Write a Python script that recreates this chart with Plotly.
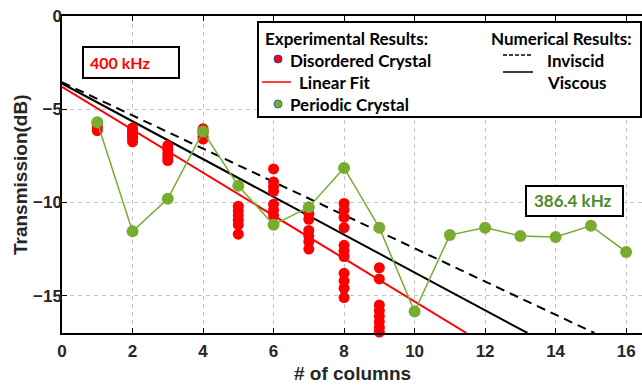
import plotly.graph_objects as go

# ---------------- data ----------------
disordered_cols = [1, 2, 3, 4, 5, 6, 7, 8, 9]
disordered_vals = [
    [-5.75, -5.9, -6.0, -6.15],
    [-6.0, -6.15, -6.3, -6.45, -6.6, -6.75],
    [-6.95, -7.15, -7.35, -7.55, -7.75],
    [-6.05, -6.25, -6.45, -6.6],
    [-10.2, -10.45, -10.7, -10.95, -11.2, -11.7],
    [-8.2, -8.9, -9.15, -9.4, -10.1, -10.4, -10.7],
    [-10.6, -10.9, -11.5, -11.8, -12.1, -12.5],
    [-10.05, -10.4, -10.8, -11.35, -12.3, -12.6, -12.9, -13.8, -14.2, -14.6, -15.1],
    [-13.5, -14.1, -15.5, -15.8, -16.1, -16.4, -16.7, -16.95],
]
periodic_x = [1, 2, 3, 4, 5, 6, 7, 8, 9, 10, 11, 12, 13, 14, 15, 16]
periodic_y = [-5.7, -11.55, -9.8, -6.2, -9.1, -11.2, -10.25, -8.15, -11.35,
              -15.85, -11.75, -11.35, -11.8, -11.85, -11.25, -12.65]
fit_x = [0, 11.47]
fit_y = [-3.8, -17.0]
viscous_x = [0, 13.2]
viscous_y = [-3.62, -17.0]
inviscid_x = [0, 15.1]
inviscid_y = [-3.55, -17.0]

x_ticks = [0, 2, 4, 6, 8, 10, 12, 14, 16]
y_ticks = [0, -5, -10, -15]

RED = "#ff0000"
GREEN = "#77ac30"
TXT = "#262626"

dx, dy = [], []
for c, vals in zip(disordered_cols, disordered_vals):
    for v in vals:
        dx.append(c)
        dy.append(v)

fig = go.Figure()
fig.add_trace(go.Scatter(x=inviscid_x, y=inviscid_y, mode="lines",
                         line=dict(color="black", width=2, dash="9px,6px")))
fig.add_trace(go.Scatter(x=viscous_x, y=viscous_y, mode="lines",
                         line=dict(color="black", width=2)))
fig.add_trace(go.Scatter(x=dx, y=dy, mode="markers", cliponaxis=False,
                         marker=dict(color=RED, size=11, line=dict(width=0))))
fig.add_trace(go.Scatter(x=fit_x, y=fit_y, mode="lines",
                         line=dict(color=RED, width=2)))
fig.add_trace(go.Scatter(x=periodic_x, y=periodic_y, mode="lines+markers", cliponaxis=False,
                         line=dict(color=GREEN, width=1.5),
                         marker=dict(color=GREEN, size=12, line=dict(width=0))))

# plot area in pixels
L, R, T, B = 62, 642, 16, 333


def px(x):
    return (x - L) / (R - L)


def py(y):
    return (B - y) / (B - T)


shapes = []
ann = []
LEG_FONT = dict(family="Lato", size=17, color="black")

# legend box
shapes.append(dict(type="rect", xref="paper", yref="paper", x0=px(258), x1=px(641),
                   y0=py(117), y1=py(22), line=dict(color="black", width=2),
                   fillcolor="white", layer="above"))


def text(x, y, s, font, anchor="left", angle=0):
    ann.append(dict(xref="paper", yref="paper", x=px(x), y=py(y), text=s,
                    showarrow=False, xanchor=anchor, yanchor="middle", font=font,
                    textangle=angle))


text(263, 38, "<b>Experimental Results:</b>", LEG_FONT)
text(288, 60, "<b>Disordered Crystal</b>", LEG_FONT)
text(297, 82, "<b>Linear Fit</b>", LEG_FONT)
text(288, 104, "<b>Periodic Crystal</b>", LEG_FONT)
text(489, 38, "<b>Numerical Results:</b>", LEG_FONT)
text(545, 60, "<b>Inviscid</b>", LEG_FONT)
text(545, 82, "<b>Viscous</b>", LEG_FONT)


def circ(cx, cy, r, fill, edge):
    shapes.append(dict(type="circle", xref="paper", yref="paper",
                       x0=px(cx - r), x1=px(cx + r), y0=py(cy + r), y1=py(cy - r),
                       fillcolor=fill, line=dict(color=edge, width=1), layer="above"))


circ(278, 59, 4, RED, "#2040c0")
circ(278, 104, 4, GREEN, "#4060a0")
shapes.append(dict(type="line", xref="paper", yref="paper", x0=px(262), x1=px(291),
                   y0=py(82), y1=py(82), line=dict(color=RED, width=1.5), layer="above"))
shapes.append(dict(type="line", xref="paper", yref="paper", x0=px(503), x1=px(533),
                   y0=py(55), y1=py(55), line=dict(color="black", width=1.5, dash="4px,2px"),
                   layer="above"))
shapes.append(dict(type="line", xref="paper", yref="paper", x0=px(503), x1=px(533),
                   y0=py(72), y1=py(72), line=dict(color="black", width=1.5), layer="above"))

# frequency boxes
shapes.append(dict(type="rect", xref="paper", yref="paper", x0=px(83), x1=px(179),
                   y0=py(78), y1=py(47), line=dict(color="black", width=2),
                   fillcolor="white", layer="above"))
text(88, 63, "<b>400 kHz</b>", dict(family="Lato", size=16, color=RED))
shapes.append(dict(type="rect", xref="paper", yref="paper", x0=px(526), x1=px(623),
                   y0=py(216), y1=py(186), line=dict(color="black", width=2),
                   fillcolor="white", layer="above"))
text(532, 201, "<b>386.4 kHz</b>", dict(family="Lato", size=17, color="#4f8a2a"))

# axis titles
TITLEF = dict(family="Liberation Sans", size=19, color=TXT)
ann.append(dict(xref="paper", yref="paper", x=px(20), y=py(175), text="<b>Transmission(dB)</b>",
                showarrow=False, xanchor="center", yanchor="middle", textangle=-90, font=TITLEF))
ann.append(dict(xref="paper", yref="paper", x=px(352), y=py(373), text="<b># of columns</b>",
                showarrow=False, xanchor="center", yanchor="middle", font=TITLEF))

TICKF = dict(family="Liberation Sans", size=17, color=TXT)


def lab(v):
    return "<b>" + str(v).replace("-", "\u2212") + "</b>"


fig.update_layout(
    width=642, height=385,
    margin=dict(l=L, r=0, t=T, b=385 - B, autoexpand=False),
    paper_bgcolor="white", plot_bgcolor="white",
    showlegend=False,
    shapes=shapes, annotations=ann,
    xaxis=dict(range=[0, 16.45], tickvals=x_ticks, ticktext=[lab(v) for v in x_ticks],
               tickfont=TICKF, showline=True, linecolor="black", linewidth=1.5,
               mirror="ticks", ticks="inside", ticklen=5, tickcolor="black",
               ticklabelstandoff=2,
               showgrid=True, gridcolor="#c4c4c4", griddash="4px,4px", gridwidth=1,
               zeroline=False, automargin=False),
    yaxis=dict(range=[-17, 0], tickvals=y_ticks, ticktext=[lab(v) for v in y_ticks],
               tickfont=TICKF, showline=True, linecolor="black", linewidth=1.5,
               ticks="inside", ticklen=5, tickcolor="black",
               ticklabelstandoff=-5,
               showgrid=True, gridcolor="#c4c4c4", griddash="4px,4px", gridwidth=1,
               zeroline=False, automargin=False),
)

fig.write_html("out.html", config={"displayModeBar": False},
               post_script="document.body.style.margin='0px';document.body.style.overflow='hidden';")
